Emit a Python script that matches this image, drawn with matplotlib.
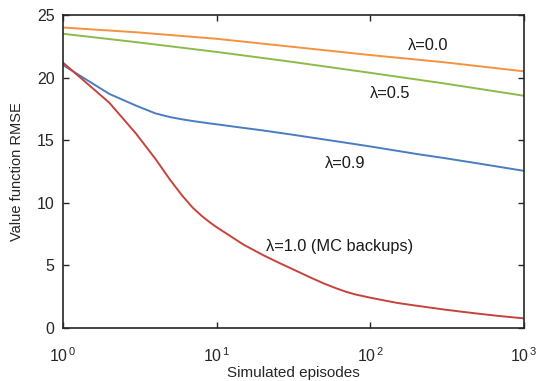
import matplotlib
matplotlib.use("Agg")
import matplotlib.pyplot as plt

plt.rcParams['font.family'] = ['Liberation Sans', 'DejaVu Sans']
plt.rcParams['mathtext.fontset'] = 'custom'
plt.rcParams['mathtext.rm'] = 'Liberation Sans'
plt.rcParams['mathtext.it'] = 'Liberation Sans'

# Data (x = simulated episodes, y = value-function RMSE)
x_lam00 = [1, 3, 10, 30, 100, 300, 1000]
y_lam00 = [24.0, 23.62, 23.1, 22.48, 21.8, 21.23, 20.5]

x_lam05 = [1, 3, 10, 30, 100, 300, 1000]
y_lam05 = [23.5, 22.83, 22.05, 21.28, 20.38, 19.54, 18.55]

x_lam09 = [1, 2, 3, 4, 5, 6, 7, 8, 9, 10, 15, 20, 30, 50, 70, 100, 200, 300, 500, 1000]
y_lam09 = [21.0, 18.7, 17.75, 17.14, 16.84, 16.66, 16.53, 16.43, 16.34, 16.27,
           15.98, 15.78, 15.47, 15.06, 14.79, 14.5, 13.9, 13.58, 13.15, 12.55]

x_lam10 = [1, 2, 3, 4, 5, 6, 7, 8, 9, 10, 15, 20, 25, 30, 40, 50, 60, 70, 80,
           100, 150, 200, 300, 400, 500, 700, 1000]
y_lam10 = [21.2, 18.0, 15.5, 13.5, 11.8, 10.54, 9.6, 8.95, 8.45, 8.05, 6.65, 5.83,
           5.25, 4.8, 4.08, 3.55, 3.17, 2.88, 2.68, 2.42, 2.0, 1.78, 1.48, 1.29,
           1.15, 0.95, 0.77]

x_ticks = [1, 10, 100, 1000]
x_ticklabels = [r'$\mathdefault{10^{\,0}}$', r'$\mathdefault{10^{\,1}}$',
                r'$\mathdefault{10^{\,2}}$', r'$\mathdefault{10^{\,3}}$']
y_ticks = [0, 5, 10, 15, 20, 25]

fig = plt.figure(figsize=(5.4, 3.81), dpi=100)
ax = fig.add_axes([63/540, 1-328/381, (524-63)/540, (328-15)/381])

lw = 1.4
ax.plot(x_lam00, y_lam00, color='#F5923E', lw=lw)
ax.plot(x_lam05, y_lam05, color='#8CBB4A', lw=lw)
ax.plot(x_lam09, y_lam09, color='#4A7DC0', lw=lw)
ax.plot(x_lam10, y_lam10, color='#C6433C', lw=lw)

ax.set_xscale('log')
ax.set_xlim(1, 1000)
ax.set_ylim(0, 25)
ax.set_yticks(y_ticks)
ax.set_xticks(x_ticks)
ax.xaxis.set_minor_locator(matplotlib.ticker.NullLocator())
ax.set_xticklabels(x_ticklabels)

ax.tick_params(direction='in', length=4, width=1, top=True, right=True,
               labelsize=11.5, colors='#262626')
ax.tick_params(axis='y', pad=6)
ax.tick_params(axis='x', pad=13)
for s in ax.spines.values():
    s.set_linewidth(1.2)
    s.set_color('#262626')

ax.set_xlabel('Simulated episodes', fontsize=11, color='#262626', labelpad=1)
ax.set_ylabel('Value function RMSE', fontsize=10.5, color='#262626', labelpad=9)

def put(px, py, s):
    fig.text(px/540, 1-py/381, s, fontsize=11.8, va='center', ha='left', color='#1a1a1a')

put(408, 46, 'λ=0.0')
put(370, 94, 'λ=0.5')
put(325, 163, 'λ=0.9')
put(266, 247, 'λ=1.0 (MC backups)')

fig.savefig('out.png', dpi=100)
